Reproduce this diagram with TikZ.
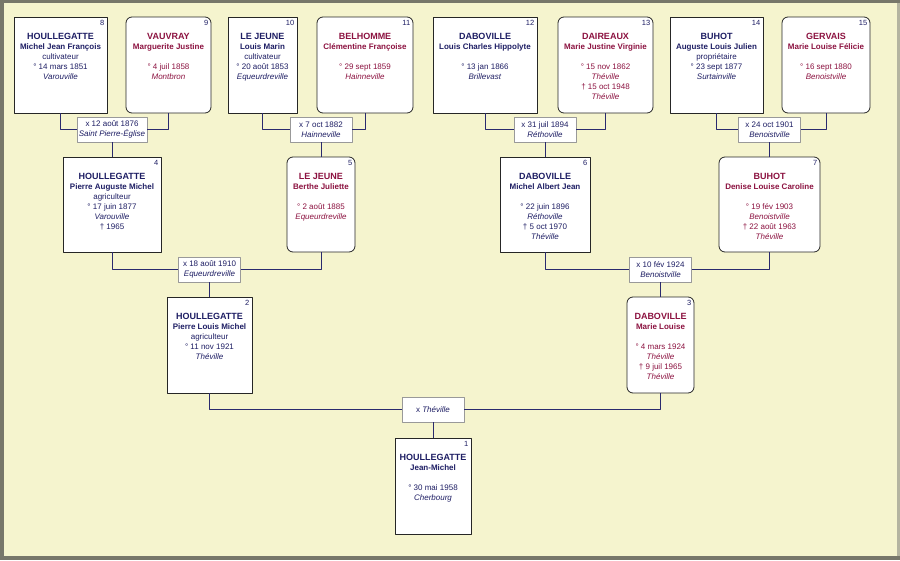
\documentclass[tikz,border=0pt]{standalone}
\usepackage{fontspec}
\setmainfont{Liberation Sans}
\definecolor{homme}{HTML}{1E1E64}
\definecolor{femme}{HTML}{8C1240}
\definecolor{fond}{HTML}{F5F4CE}
\definecolor{trait}{HTML}{2A2A6E}
\definecolor{cadresombre}{HTML}{77776A}
\definecolor{cadreclair}{HTML}{B4B4A0}
\newcommand{\nomfam}[1]{{\fontsize{9}{10}\selectfont\bfseries #1}}
\begin{document}
\begin{tikzpicture}[x=1pt, y=-1pt, font=\fontsize{8}{10}\selectfont, line join=round,
		box/.style={draw=black!85, fill=white, line width=0.8pt, inner sep=0pt},
		hbox/.style={box},
		fbox/.style={box, rounded corners=6pt},
		txt/.style={anchor=north, align=center, inner sep=0pt, yshift=-16.5pt},
		num/.style={anchor=north east, inner sep=0pt, xshift=-3pt, yshift=-3.5pt, font=\fontsize{7.5}{7.5}\selectfont, text=homme},
		wed/.style={draw=black!40, fill=white, align=center, minimum width=62pt, minimum height=25pt, inner sep=2pt, text=homme, font=\fontsize{8}{9.5}\selectfont},
		link/.style={draw=trait, line width=0.8pt}]
	% cadre
	\useasboundingbox (0,0) rectangle (900,560);
	\fill[fond] (0,0) rectangle (900,560);
	\fill[cadresombre] (0,0) rectangle (900,3);
	\fill[cadresombre] (0,0) rectangle (4,560);
	\fill[cadresombre] (0,556) rectangle (900,560);
	\fill[cadreclair] (897,3) rectangle (900,556);
	% generation 4
	\node[hbox, minimum width=93pt, minimum height=96pt, label={[num]north east:8}] (p8) at (60.5,65) {};
	\node[txt, text=homme] (t8) at (p8.north) {\nomfam{HOULLEGATTE}\\ \textbf{Michel Jean François}\\ cultivateur\\ ° 14 mars 1851\\ \textit{Varouville}};
	\node[fbox, minimum width=85pt, minimum height=96pt, label={[num]north east:9}] (p9) at (168.5,65) {};
	\node[txt, text=femme] (t9) at (p9.north) {\nomfam{VAUVRAY}\\ \textbf{Marguerite Justine}\\ \mbox{}\\ ° 4 juil 1858\\ \textit{Montbron}};
	\node[hbox, minimum width=69pt, minimum height=96pt, label={[num]north east:10}] (p10) at (262.5,65) {};
	\node[txt, text=homme] (t10) at (p10.north) {\nomfam{LE JEUNE}\\ \textbf{Louis Marin}\\ cultivateur\\ ° 20 août 1853\\ \textit{Equeurdreville}};
	\node[fbox, minimum width=96pt, minimum height=96pt, label={[num]north east:11}] (p11) at (365,65) {};
	\node[txt, text=femme] (t11) at (p11.north) {\nomfam{BELHOMME}\\ \textbf{Clémentine Françoise}\\ \mbox{}\\ ° 29 sept 1859\\ \textit{Hainneville}};
	\node[hbox, minimum width=104pt, minimum height=96pt, label={[num]north east:12}] (p12) at (485,65) {};
	\node[txt, text=homme] (t12) at (p12.north) {\nomfam{DABOVILLE}\\ \textbf{Louis Charles Hippolyte}\\ \mbox{}\\ ° 13 jan 1866\\ \textit{Brillevast}};
	\node[fbox, minimum width=95pt, minimum height=96pt, label={[num]north east:13}] (p13) at (605.5,65) {};
	\node[txt, text=femme] (t13) at (p13.north) {\nomfam{DAIREAUX}\\ \textbf{Marie Justine Virginie}\\ \mbox{}\\ ° 15 nov 1862\\ \textit{Théville}\\ † 15 oct 1948\\ \textit{Théville}};
	\node[hbox, minimum width=93pt, minimum height=96pt, label={[num]north east:14}] (p14) at (716.5,65) {};
	\node[txt, text=homme] (t14) at (p14.north) {\nomfam{BUHOT}\\ \textbf{Auguste Louis Julien}\\ propriétaire\\ ° 23 sept 1877\\ \textit{Surtainville}};
	\node[fbox, minimum width=88pt, minimum height=96pt, label={[num]north east:15}] (p15) at (826,65) {};
	\node[txt, text=femme] (t15) at (p15.north) {\nomfam{GERVAIS}\\ \textbf{Marie Louise Félicie}\\ \mbox{}\\ ° 16 sept 1880\\ \textit{Benoistville}};
	% mariages 4
	\node[wed] (m4) at (112,129.5) {x 12 août 1876\\ \textit{Saint Pierre-Église}};
	\node[wed] (m5) at (321,129.5) {x 7 oct 1882\\ \textit{Hainneville}};
	\node[wed] (m6) at (545,129.5) {x 31 juil 1894\\ \textit{Réthoville}};
	\node[wed] (m7) at (769.5,129.5) {x 24 oct 1901\\ \textit{Benoistville}};
	% generation 3
	\node[hbox, minimum width=98pt, minimum height=95pt, label={[num]north east:4}] (p4) at (112,204.5) {};
	\node[txt, text=homme] (t4) at (p4.north) {\nomfam{HOULLEGATTE}\\ \textbf{Pierre Auguste Michel}\\ agriculteur\\ ° 17 juin 1877\\ \textit{Varouville}\\ † 1965};
	\node[fbox, minimum width=68pt, minimum height=95pt, label={[num]north east:5}] (p5) at (321,204.5) {};
	\node[txt, text=femme] (t5) at (p5.north) {\nomfam{LE JEUNE}\\ \textbf{Berthe Juliette}\\ \mbox{}\\ ° 2 août 1885\\ \textit{Equeurdreville}};
	\node[hbox, minimum width=90pt, minimum height=95pt, label={[num]north east:6}] (p6) at (545,204.5) {};
	\node[txt, text=homme] (t6) at (p6.north) {\nomfam{DABOVILLE}\\ \textbf{Michel Albert Jean}\\ \mbox{}\\ ° 22 juin 1896\\ \textit{Réthoville}\\ † 5 oct 1970\\ \textit{Théville}};
	\node[fbox, minimum width=101pt, minimum height=95pt, label={[num]north east:7}] (p7) at (769.5,204.5) {};
	\node[txt, text=femme] (t7) at (p7.north) {\nomfam{BUHOT}\\ \textbf{Denise Louise Caroline}\\ \mbox{}\\ ° 19 fév 1903\\ \textit{Benoistville}\\ † 22 août 1963\\ \textit{Théville}};
	% mariages 3
	\node[wed] (m2) at (209.5,269.5) {x 18 août 1910\\ \textit{Equeurdreville}};
	\node[wed] (m3) at (660.5,269.5) {x 10 fév 1924\\ \textit{Benoistville}};
	% generation 2
	\node[hbox, minimum width=85pt, minimum height=96pt, label={[num]north east:2}] (p2) at (209.5,345) {};
	\node[txt, text=homme] (t2) at (p2.north) {\nomfam{HOULLEGATTE}\\ \textbf{Pierre Louis Michel}\\ agriculteur\\ ° 11 nov 1921\\ \textit{Théville}};
	\node[fbox, minimum width=67pt, minimum height=96pt, label={[num]north east:3}] (p3) at (660.5,345) {};
	\node[txt, text=femme] (t3) at (p3.north) {\nomfam{DABOVILLE}\\ \textbf{Marie Louise}\\ \mbox{}\\ ° 4 mars 1924\\ \textit{Théville}\\ † 9 juil 1965\\ \textit{Théville}};
	% mariage 2 et generation 1
	\node[wed] (m1) at (433,409.5) {x \textit{Théville}};
	\node[hbox, minimum width=76pt, minimum height=96pt, label={[num]north east:1}] (p1) at (433,486) {};
	\node[txt, text=homme] (t1) at (p1.north) {\nomfam{HOULLEGATTE}\\ \textbf{Jean-Michel}\\ \mbox{}\\ ° 30 mai 1958\\ \textit{Cherbourg}};
	% liens
	\foreach \a/\b/\m in {p8/p9/m4, p10/p11/m5, p12/p13/m6, p14/p15/m7, p4/p5/m2, p6/p7/m3, p2/p3/m1}
	\draw[link] (\a.south) |- (\m.west) (\b.south) |- (\m.east);
	\foreach \m/\c in {m4/p4, m5/p5, m6/p6, m7/p7, m2/p2, m3/p3, m1/p1}
	\draw[link] (\m.south) -- (\c.north);
\end{tikzpicture}
\end{document}
